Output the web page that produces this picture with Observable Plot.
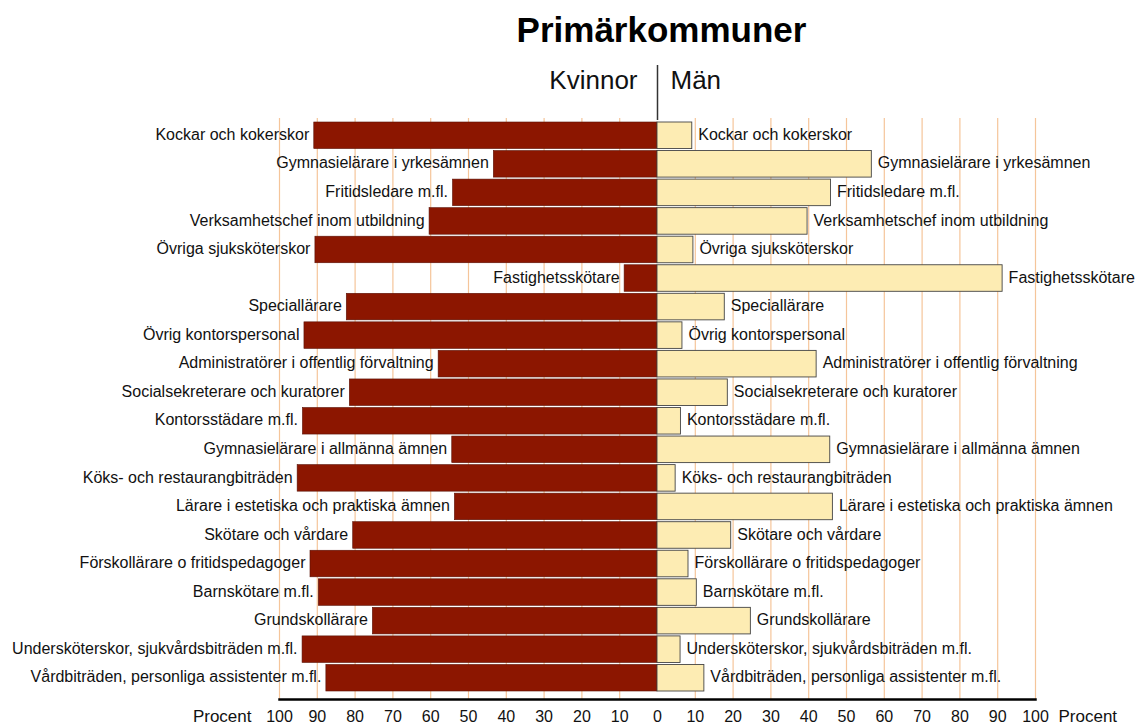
<!DOCTYPE html>
<html>
<head>
<meta charset="utf-8">
<script src="https://cdn.jsdelivr.net/npm/d3@7"></script>
<script src="https://cdn.jsdelivr.net/npm/@observablehq/plot@0.6"></script>
<style>
  html, body { margin: 0; padding: 0; background: #fff; }
  #chart svg { display: block; }
</style>
</head>
<body>
<div id="chart"></div>
<script>
const categories = [
  "Kockar och kokerskor",
  "Gymnasielärare i yrkesämnen",
  "Fritidsledare m.fl.",
  "Verksamhetschef inom utbildning",
  "Övriga sjuksköterskor",
  "Fastighetsskötare",
  "Speciallärare",
  "Övrig kontorspersonal",
  "Administratörer i offentlig förvaltning",
  "Socialsekreterare och kuratorer",
  "Kontorsstädare m.fl.",
  "Gymnasielärare i allmänna ämnen",
  "Köks- och restaurangbiträden",
  "Lärare i estetiska och praktiska ämnen",
  "Skötare och vårdare",
  "Förskollärare o fritidspedagoger",
  "Barnskötare m.fl.",
  "Grundskollärare",
  "Undersköterskor, sjukvårdsbiträden m.fl.",
  "Vårdbiträden, personliga assistenter m.fl."
];
const kvinnor = [90.8, 43.3, 54.1, 60.3, 90.5, 8.7, 82.2, 93.4, 57.9, 81.4, 93.8, 54.3, 95.2, 53.6, 80.5, 91.8, 89.6, 75.3, 93.9, 87.6];
const man     = [ 9.2, 56.7, 45.9, 39.7,  9.5, 91.3, 17.8,  6.6, 42.1, 18.6,  6.2, 45.7,  4.8, 46.4, 19.5,  8.2, 10.4, 24.7,  6.1, 12.4];
const gridTicks = [-100, -90, -80, -70, -60, -50, -40, -30, -20, -10, 10, 20, 30, 40, 50, 60, 70, 80, 90, 100];
const axisTicks = [-100, -90, -80, -70, -60, -50, -40, -30, -20, -10, 0, 10, 20, 30, 40, 50, 60, 70, 80, 90, 100];
const title = "Primärkommuner";
const leftHeader = "Kvinnor";
const rightHeader = "Män";
const unitLabel = "Procent";

const rows = categories.map((c, i) => ({cat: c, w: kvinnor[i], m: man[i]}));
const font = "'Liberation Sans', Arial, sans-serif";

const chart = Plot.plot({
  width: 1136,
  height: 727,
  marginLeft: 279,
  marginRight: 101,
  marginTop: 65,
  marginBottom: 28,
  style: {fontFamily: font, fontSize: "16px", color: "#111", background: "#fff"},
  x: {domain: [-100, 100], axis: null, label: null},
  y: {domain: categories, range: [120, 693], padding: 0.07, round: false, axis: null, label: null},
  marks: [
    Plot.ruleX(gridTicks, {x: d => d, stroke: "#f5c59a", strokeWidth: 1.2, insetTop: 53}),
    Plot.ruleX([0], {x: d => d, stroke: "#333", strokeWidth: 1.5, insetBottom: 579}),
    Plot.barX(rows, {y: "cat", x1: 0, x2: d => -d.w, fill: "#8c1600", stroke: "#5a1206", strokeWidth: 0.6}),
    Plot.barX(rows, {y: "cat", x1: 0, x2: "m", fill: "#fdecb3", stroke: "#444", strokeWidth: 0.9}),
    Plot.text(rows, {y: "cat", x: d => -d.w, text: "cat", textAnchor: "end", dx: -5, dy: -1, fontSize: 16, fill: "#111"}),
    Plot.text(rows, {y: "cat", x: "m", text: "cat", textAnchor: "start", dx: 6, dy: -1, fontSize: 16, fill: "#111"}),
    Plot.frame({anchor: "bottom", stroke: "#000", strokeWidth: 2.5}),
    Plot.axisX(axisTicks, {anchor: "bottom", label: null, tickSize: 0, tickPadding: 11, tickFormat: d => Math.abs(d), fontSize: 16, fill: "#111"}),
    Plot.text([unitLabel], {x: -100, frameAnchor: "bottom", lineAnchor: "middle", dy: 17, dx: -28, textAnchor: "end", fontSize: 17, fill: "#111"}),
    Plot.text([unitLabel], {x: 100, frameAnchor: "bottom", lineAnchor: "middle", dy: 17, dx: 23, textAnchor: "start", fontSize: 17, fill: "#111"}),
    Plot.text([title], {x: 0, frameAnchor: "top", lineAnchor: "middle", dy: -35, dx: 4, textAnchor: "middle", fontSize: 35, fontWeight: "bold", fill: "#000"}),
    Plot.text([leftHeader], {x: 0, frameAnchor: "top", lineAnchor: "middle", dy: 15, dx: -20, textAnchor: "end", fontSize: 26, fill: "#111"}),
    Plot.text([rightHeader], {x: 0, frameAnchor: "top", lineAnchor: "middle", dy: 15, dx: 13, textAnchor: "start", fontSize: 26, fill: "#111"})
  ]
});
document.getElementById("chart").append(chart);
</script>
</body>
</html>
